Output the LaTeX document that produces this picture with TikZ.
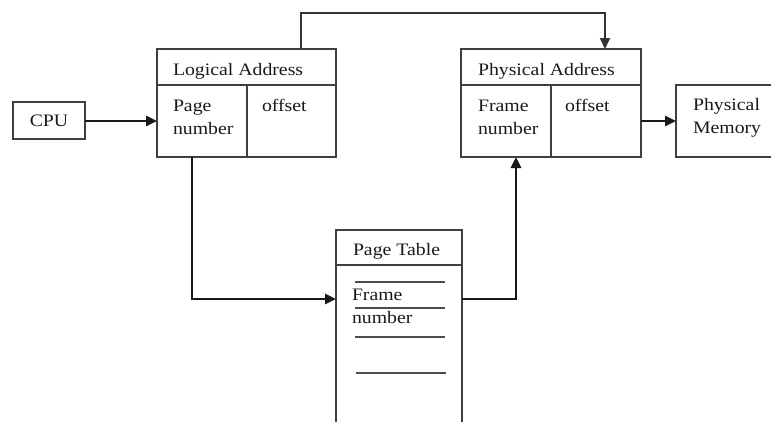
\documentclass[tikz,border=0pt]{standalone}
\usepackage{fontspec}
\setmainfont{Liberation Serif}[FakeStretch=1.13]
\usetikzlibrary{arrows.meta}
\begin{document}
\begin{tikzpicture}[x=1pt,y=-1pt,
  box/.style={draw=black!75,line width=2pt,inner sep=0pt,outer sep=0pt,anchor=north west},
  sep/.style={draw=black!75,line width=2pt},
  conn/.style={draw=black!80,line width=1.9pt},
  arr/.style={draw=black!90,line width=2.6pt,-{Triangle[length=11pt,width=10pt]}},
  lbl/.style={inner sep=0pt,outer sep=0pt,anchor=base west,text=black!90,font=\fontsize{17.5}{21}\selectfont},
  tline/.style={draw=black!70,line width=1.8pt}]
\useasboundingbox (0,0) rectangle (771,421);
\clip (0,0) rectangle (771,421);
% boxes
\node[box,minimum width=72pt,minimum height=37pt] (cpu) at (13,102) {};
\node[box,minimum width=179pt,minimum height=108pt] (logical) at (157,49) {};
\node[box,minimum width=180pt,minimum height=108pt] (physical) at (461,49) {};
\node[box,minimum width=110pt,minimum height=72pt] (memory) at (676,85) {};
\node[box,minimum width=126pt,minimum height=215pt] (ptab) at (336,230) {};
% separators
\draw[sep] (157,85) -- (336,85);
\draw[sep] (247,85) -- (247,157);
\draw[sep] (461,85) -- (641,85);
\draw[sep] (551,85) -- (551,157);
\draw[sep] (336,265) -- (462,265);
% page table rows
\draw[tline] (355,282) -- (445,282);
\draw[tline] (355,308) -- (445,308);
\draw[tline] (355,337) -- (445,337);
\draw[tline] (356,373) -- (446,373);
% labels
\node[lbl,anchor=center] (tcpu) at (cpu.center) {CPU};
\node[lbl] (tla) at (173,75) {Logical Address};
\node[lbl] (tpage) at (173,111) {Page};
\node[lbl] (tpnum) at (173,134) {number};
\node[lbl] (toff1) at (262,111) {offset};
\node[lbl] (tpa) at (478,75) {Physical Address};
\node[lbl] (tframe) at (478,111) {Frame};
\node[lbl] (tfnum) at (478,134) {number};
\node[lbl] (toff2) at (565,111) {offset};
\node[lbl] (tphys) at (693,110) {Physical};
\node[lbl] (tmem) at (693,133) {Memory};
\node[lbl] (tpt) at (353,255) {Page Table};
\node[lbl] (tptf) at (352,300) {Frame};
\node[lbl] (tptn) at (352,323) {number};
% helper coordinates
\coordinate (rowy) at (0,299);
\coordinate (arry) at (0,121);
% connectors
\draw[arr] (cpu.east |- arry) -- (logical.west |- arry);
\draw[conn,-{Triangle[length=11pt,width=10pt]}] ([xshift=144pt]logical.north west) -- ++(0,-36) -| ([xshift=144pt]physical.north west);
\draw[arr] ([xshift=35pt]logical.south west) |- (ptab.west |- rowy);
\draw[arr] (ptab.east |- rowy) -| ([xshift=55pt]physical.south west);
\draw[arr] (physical.east |- arry) -- (memory.west |- arry);
\end{tikzpicture}
\end{document}
